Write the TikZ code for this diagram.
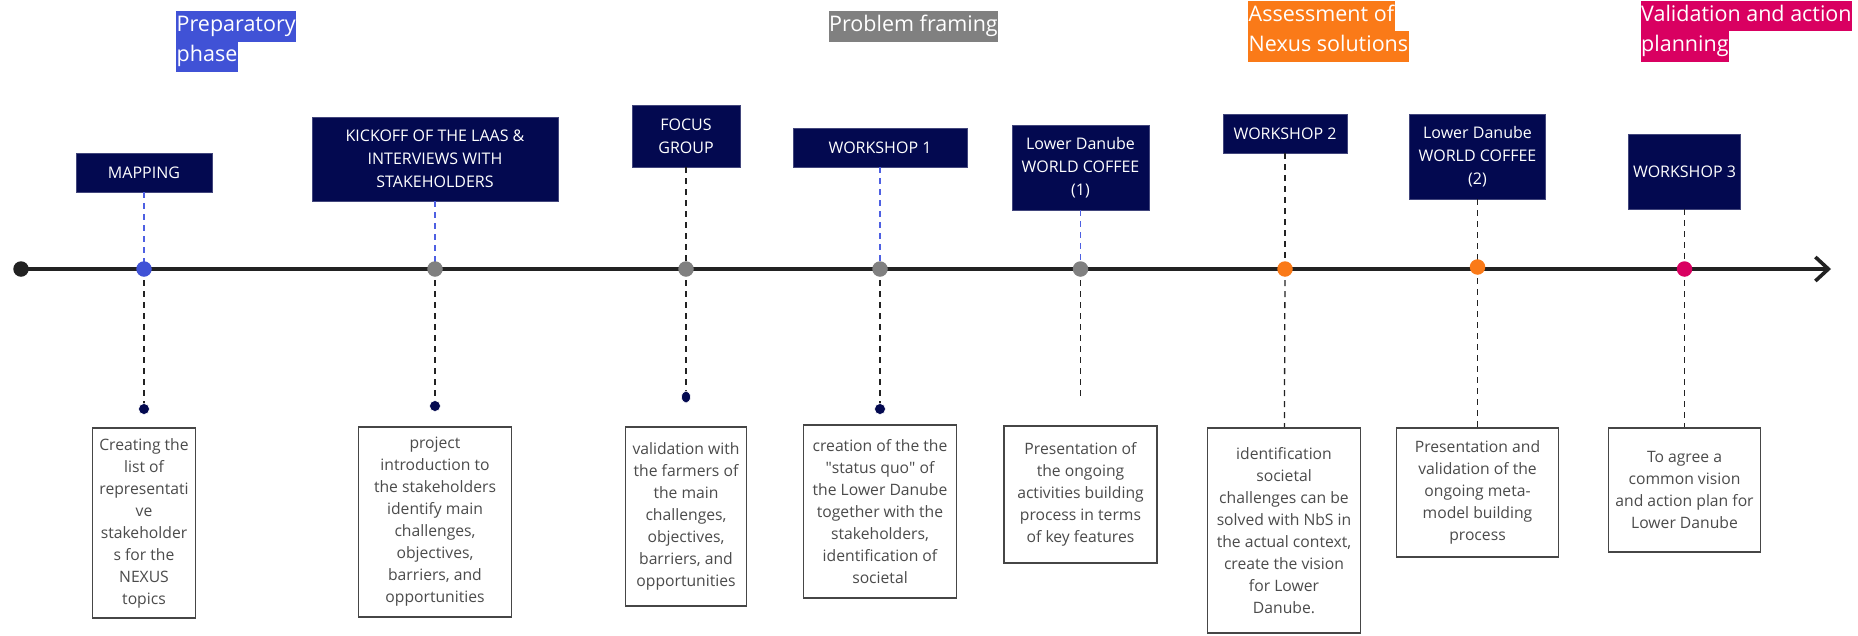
\documentclass[tikz,border=0pt]{standalone}
\usepackage{fontspec}
\setmainfont{Open Sans}
\usetikzlibrary{arrows.meta,shapes.geometric}
\definecolor{navy}{RGB}{3,9,80}
\definecolor{phblue}{RGB}{64,82,214}
\definecolor{phgray}{RGB}{128,128,128}
\definecolor{phorange}{RGB}{250,122,24}
\definecolor{phmagenta}{RGB}{217,0,97}
\definecolor{linedark}{RGB}{34,34,34}
\definecolor{boxedge}{RGB}{70,70,70}
\definecolor{notetext}{RGB}{75,75,75}
\definecolor{dashblue}{RGB}{78,96,226}
\begin{document}
\begin{tikzpicture}[x=1pt,y=-1pt,
  event/.style={fill=navy, draw=navy!75!white, line width=0.8pt, text=white,
    font=\fontsize{16}{23}\selectfont, align=center, inner sep=0pt},
  note/.style={draw=boxedge, line width=1.8pt, fill=white, text=notetext,
    font=\fontsize{15.7}{22}\selectfont, align=center, inner sep=0pt},
  phaselabel/.style={anchor=north west, text=white, font=\fontsize{21.5}{30}\selectfont,
    inner xsep=0.5pt, inner ysep=0pt, minimum height=30.5pt, text height=16pt, text depth=5pt},
  dotmark/.style={circle, inner sep=0pt, minimum size=15.5pt},
  pin/.style={circle, inner sep=0pt, minimum size=11pt, fill=navy, draw=white, line width=0.6pt},
  dashb/.style={draw=dashblue, line width=1.3pt, dash pattern=on 6pt off 5pt},
  dashk/.style={draw=linedark, line width=1.3pt, dash pattern=on 6pt off 5pt}
]
\useasboundingbox (0,0) rectangle (1858,635);

% phase labels
\node[phaselabel, fill=phblue] (p1a) at (176,11) {Preparatory};
\node[phaselabel, fill=phblue] (p1b) at (176,41) {phase};
\node[phaselabel, fill=phgray] (p2a) at (828.5,11) {Problem framing};
\node[phaselabel, fill=phorange] (p3a) at (1248,0.5) {Assessment of};
\node[phaselabel, fill=phorange] (p3b) at (1248,31) {Nexus solutions};
\node[phaselabel, fill=phmagenta] (p4a) at (1640.5,0.5) {Validation and action};
\node[phaselabel, fill=phmagenta] (p4b) at (1640.5,31) {planning};

% events above the timeline
\node[event, minimum width=136pt, minimum height=39pt] (t1) at (144,172.5) {MAPPING};
\node[event, minimum width=246pt, minimum height=84pt] (t2) at (435,159) {KICKOFF OF THE LAAS \&\\INTERVIEWS WITH\\STAKEHOLDERS};
\node[event, minimum width=108pt, minimum height=62pt] (t3) at (686,136) {FOCUS\\GROUP};
\node[event, minimum width=174pt, minimum height=39pt] (t4) at (880,147.5) {WORKSHOP 1};
\node[event, minimum width=137pt, minimum height=85pt] (t5) at (1080.5,167.5) {Lower Danube\\WORLD COFFEE\\(1)};
\node[event, minimum width=124pt, minimum height=39pt] (t6) at (1285,133.5) {WORKSHOP 2};
\node[event, minimum width=136pt, minimum height=85pt] (t7) at (1477.5,156.5) {Lower Danube\\WORLD COFFEE\\(2)};
\node[event, minimum width=112pt, minimum height=75pt] (t8) at (1684.5,171.5) {WORKSHOP 3};

% descriptions below the timeline
\node[note, minimum width=103pt, minimum height=190pt] (b1) at (144,523) {Creating the\\list of\\representati\\ve\\stakeholder\\s for the\\NEXUS\\topics};
\node[note, minimum width=153pt, minimum height=190pt] (b2) at (435,522) {project\\introduction to\\the stakeholders\\identify main\\challenges,\\objectives,\\barriers, and\\opportunities};
\node[note, minimum width=121pt, minimum height=179pt] (b3) at (686,516.5) {validation with\\the farmers of\\the main\\challenges,\\objectives,\\barriers, and\\opportunities};
\node[note, minimum width=153pt, minimum height=173pt] (b4) at (880,511.5) {creation of the the\\\textquotedbl status quo\textquotedbl\ of\\the Lower Danube\\together with the\\stakeholders,\\identification of\\societal};
\node[note, minimum width=153pt, minimum height=137pt] (b5) at (1080.5,494.5) {Presentation of\\the ongoing\\activities building\\process in terms\\of key features};
\node[note, minimum width=153pt, minimum height=205pt] (b6) at (1284,530.5) {identification\\societal\\challenges can be\\solved with NbS in\\the actual context,\\create the vision\\for Lower\\Danube.};
\node[note, minimum width=162pt, minimum height=129pt] (b7) at (1477.5,492.5) {Presentation and\\validation of the\\ongoing meta-\\model building\\process};
\node[note, minimum width=152pt, minimum height=124pt] (b8) at (1684.5,490) {To agree a\\common vision\\and action plan for\\Lower Danube};

% timeline marks
\coordinate (d1) at (144,269);
\coordinate (d2) at (435,269);
\coordinate (d3) at (686,269);
\coordinate (d4) at (880,269);
\coordinate (d5) at (1080.5,269);
\coordinate (d6) at (1285,269);
\coordinate (d7) at (1477.5,267);
\coordinate (d8) at (1684.5,269);

% pins below the timeline
\coordinate (s1) at (144,409);
\coordinate (s2) at (435,406);
\coordinate (s3) at (686,397);
\coordinate (s4) at (880,409);
\coordinate (s5) at (1080.5,398);

% dashed leaders
\draw[dashb] (t1) -- (d1);
\draw[dashb] (t2) -- (d2);
\draw[dashk] (t3) -- (d3);
\draw[dashb] (t4) -- (d4);
\draw[dashb] (t5) -- (d5);
\draw[dashk] (t6) -- (d6);
\draw[dashk] (t7) -- (d7);
\draw[dashk] (t8) -- (d8);
\draw[dashk] (d1) -- (s1);
\draw[dashk] (d2) -- (s2);
\draw[dashk] (d3) -- (s3);
\draw[dashk] (d4) -- (s4);
\draw[dashk] (d5) -- (s5);
\draw[dashk] (d6) -- (b6);
\draw[dashk] (d7) -- (b7);
\draw[dashk] (d8) -- (b8);

% timeline axis
\node[dotmark, fill=linedark] (tstart) at (21,269) {};
\coordinate (tend) at (1831,269);
\draw[linedark, line width=3.6pt, -{Straight Barb[length=13pt,width=24pt]}] (tstart.center) -- (tend);

% dots on the axis
\node[dotmark, fill=phblue] (m1) at (d1) {};
\node[dotmark, fill=phgray] (m2) at (d2) {};
\node[dotmark, fill=phgray] (m3) at (d3) {};
\node[dotmark, fill=phgray] (m4) at (d4) {};
\node[dotmark, fill=phgray] (m5) at (d5) {};
\node[dotmark, fill=phorange] (m6) at (d6) {};
\node[dotmark, fill=phorange] (m7) at (d7) {};
\node[dotmark, fill=phmagenta] (m8) at (d8) {};

% pins
\node[pin] (n1) at (s1) {};
\node[pin] (n2) at (s2) {};
\node[pin, ellipse, minimum width=9pt, minimum height=12pt] (n3) at (s3) {};
\node[pin] (n4) at (s4) {};
\end{tikzpicture}
\end{document}
